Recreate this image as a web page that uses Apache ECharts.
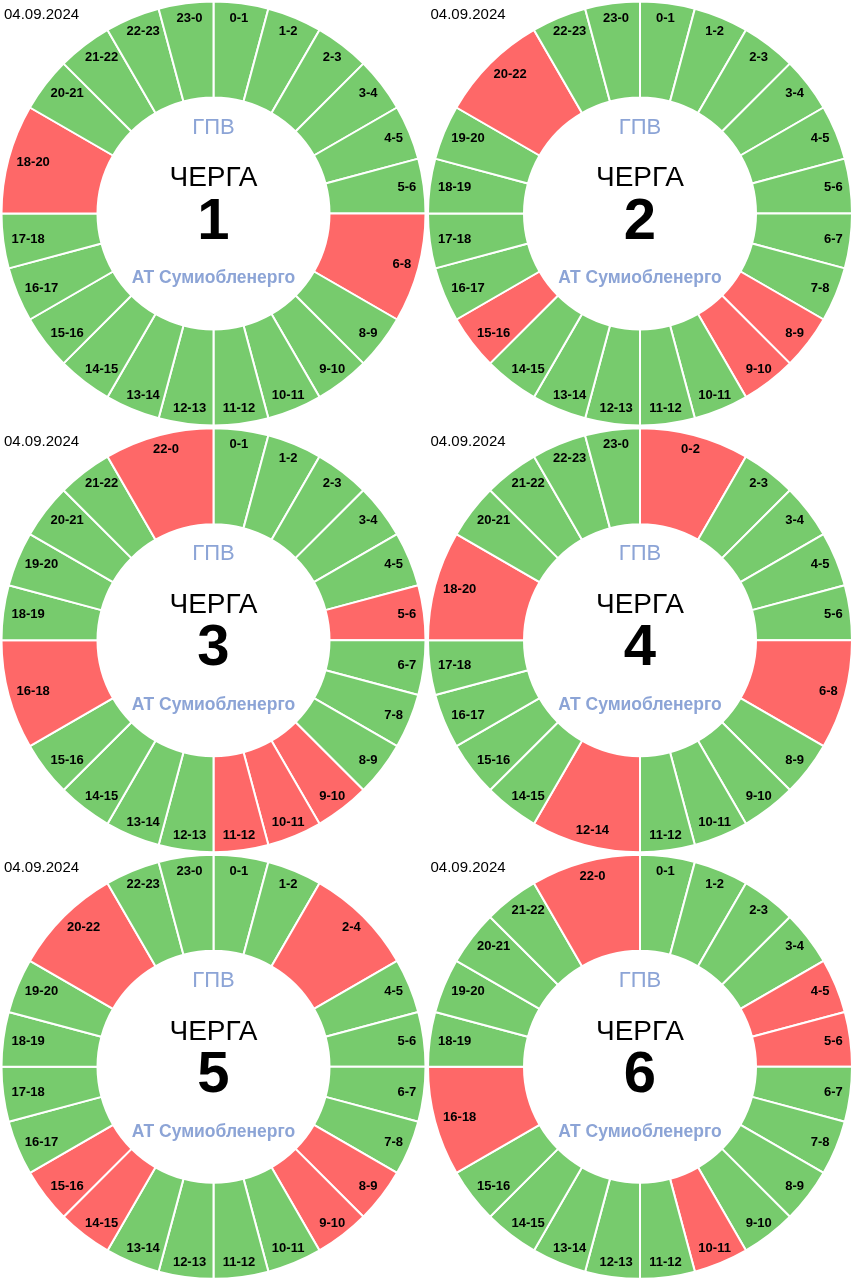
<!DOCTYPE html>
<html>
<head>
<meta charset="utf-8">
<script src="https://cdn.jsdelivr.net/npm/echarts@6/dist/echarts.min.js"></script>
<style>
html,body{margin:0;padding:0;background:#fff;}
#chart{width:853px;height:1280px;}
</style>
</head>
<body>
<div id="chart"></div>
<script>
// ---- data ----
var dateLabel = "04.09.2024";
var queueNames = ["1", "2", "3", "4", "5", "6"];

// segment labels (clockwise from 0:00), duration in hours, status (1 = off/red, 0 = on/green)
var q1Labels = ["0-1","1-2","2-3","3-4","4-5","5-6","6-8","8-9","9-10","10-11","11-12","12-13","13-14","14-15","15-16","16-17","17-18","18-20","20-21","21-22","22-23","23-0"];
var q1Hours  = [1,1,1,1,1,1,2,1,1,1,1,1,1,1,1,1,1,2,1,1,1,1];
var q1Off    = [0,0,0,0,0,0,1,0,0,0,0,0,0,0,0,0,0,1,0,0,0,0];

var q2Labels = ["0-1","1-2","2-3","3-4","4-5","5-6","6-7","7-8","8-9","9-10","10-11","11-12","12-13","13-14","14-15","15-16","16-17","17-18","18-19","19-20","20-22","22-23","23-0"];
var q2Hours  = [1,1,1,1,1,1,1,1,1,1,1,1,1,1,1,1,1,1,1,1,2,1,1];
var q2Off    = [0,0,0,0,0,0,0,0,1,1,0,0,0,0,0,1,0,0,0,0,1,0,0];

var q3Labels = ["0-1","1-2","2-3","3-4","4-5","5-6","6-7","7-8","8-9","9-10","10-11","11-12","12-13","13-14","14-15","15-16","16-18","18-19","19-20","20-21","21-22","22-0"];
var q3Hours  = [1,1,1,1,1,1,1,1,1,1,1,1,1,1,1,1,2,1,1,1,1,2];
var q3Off    = [0,0,0,0,0,1,0,0,0,1,1,1,0,0,0,0,1,0,0,0,0,1];

var q4Labels = ["0-2","2-3","3-4","4-5","5-6","6-8","8-9","9-10","10-11","11-12","12-14","14-15","15-16","16-17","17-18","18-20","20-21","21-22","22-23","23-0"];
var q4Hours  = [2,1,1,1,1,2,1,1,1,1,2,1,1,1,1,2,1,1,1,1];
var q4Off    = [1,0,0,0,0,1,0,0,0,0,1,0,0,0,0,1,0,0,0,0];

var q5Labels = ["0-1","1-2","2-4","4-5","5-6","6-7","7-8","8-9","9-10","10-11","11-12","12-13","13-14","14-15","15-16","16-17","17-18","18-19","19-20","20-22","22-23","23-0"];
var q5Hours  = [1,1,2,1,1,1,1,1,1,1,1,1,1,1,1,1,1,1,1,2,1,1];
var q5Off    = [0,0,1,0,0,0,0,1,1,0,0,0,0,1,1,0,0,0,0,1,0,0];

var q6Labels = ["0-1","1-2","2-3","3-4","4-5","5-6","6-7","7-8","8-9","9-10","10-11","11-12","12-13","13-14","14-15","15-16","16-18","18-19","19-20","20-21","21-22","22-0"];
var q6Hours  = [1,1,1,1,1,1,1,1,1,1,1,1,1,1,1,1,2,1,1,1,1,2];
var q6Off    = [0,0,0,0,1,1,0,0,0,0,1,0,0,0,0,0,1,0,0,0,0,1];

// ---- build ----
var queues = [
  {labels:q1Labels, hours:q1Hours, off:q1Off},
  {labels:q2Labels, hours:q2Hours, off:q2Off},
  {labels:q3Labels, hours:q3Hours, off:q3Off},
  {labels:q4Labels, hours:q4Hours, off:q4Off},
  {labels:q5Labels, hours:q5Hours, off:q5Off},
  {labels:q6Labels, hours:q6Hours, off:q6Off}
];
var GREEN = "#77CB6D", RED = "#FE6868", BLUE = "#8CA4D6";
var FONT = "Liberation Sans, Arial, sans-serif";
var panelW = 853/2, panelH = 1280/3;
var R_OUT = 212, R_IN = 116;

// mid angle (radians, clockwise from top) of every segment, used only to nudge label offsets
var midAngles = queues.map(function(q){
  var total = q.hours.reduce(function(a,b){return a+b;},0), acc = 0;
  return q.hours.map(function(h){ var m = (acc + h/2) / total * 2 * Math.PI; acc += h; return m; });
});
var labelSeriesQueue = {};

var series = [], graphics = [];
queues.forEach(function(q, i){
  var col = i % 2, row = Math.floor(i / 2);
  var cx = panelW * col + 213.5, cy = panelH * row + 213.5;
  var data = q.labels.map(function(l, k){
    return {name: l, value: q.hours[k], itemStyle: {color: q.off[k] ? RED : GREEN}};
  });
  series.push({
    type: 'pie', center: [cx, cy], radius: [R_IN, R_OUT],
    startAngle: 90, clockwise: true, silent: true, animation: false,
    label: {show: false}, labelLine: {show: false},
    itemStyle: {borderColor: '#ffffff', borderWidth: 2},
    data: data
  });
  labelSeriesQueue[series.length] = i;
  series.push({
    type: 'pie', center: [cx, cy], radius: [182, 206],
    startAngle: 90, clockwise: true, silent: true, animation: false,
    itemStyle: {color: 'rgba(0,0,0,0)'},
    label: {show: true, position: 'inside', rotate: 0, formatter: '{b}',
      color: '#000', fontSize: 13, fontWeight: 'bold', fontFamily: FONT},
    labelLine: {show: false},
    labelLayout: function(p){
      var qi = labelSeriesQueue[p.seriesIndex];
      var a = midAngles[qi][p.dataIndex];
      var s = Math.sin(a);
      var dx = s < 0 ? 10 * Math.min(1, Math.abs(s) / 0.75) : -2 * s;
      return {dx: dx, dy: 0};
    },
    data: q.labels.map(function(l, k){ return {name: l, value: q.hours[k]}; })
  });
  var x0 = panelW * col, y0 = panelH * row;
  graphics.push(
    {type:'text', x: x0 + 4, y: y0 + 15, style:{text: dateLabel, fill:'#000', font: '15px ' + FONT, textVerticalAlign:'middle'}},
    {type:'text', x: cx, y: cy - 86, style:{text:'ГПВ', fill: BLUE, font: '22px ' + FONT, textAlign:'center', textVerticalAlign:'middle'}},
    {type:'text', x: cx, y: cy - 35, style:{text:'ЧЕРГА', fill:'#000', font: '28px ' + FONT, textAlign:'center', textVerticalAlign:'middle'}},
    {type:'text', x: cx, y: cy + 9, style:{text: queueNames[i], fill:'#000', font: 'bold 58px ' + FONT, textAlign:'center', textVerticalAlign:'middle'}},
    {type:'text', x: cx, y: cy + 65, style:{text:'АТ Сумиобленерго', fill: BLUE, font: 'bold 17.5px ' + FONT, textAlign:'center', textVerticalAlign:'middle'}}
  );
});

var chart = echarts.init(document.getElementById('chart'), null, {renderer: 'canvas'});
chart.setOption({
  animation: false,
  backgroundColor: '#ffffff',
  series: series,
  graphic: graphics
});
</script>
</body>
</html>
